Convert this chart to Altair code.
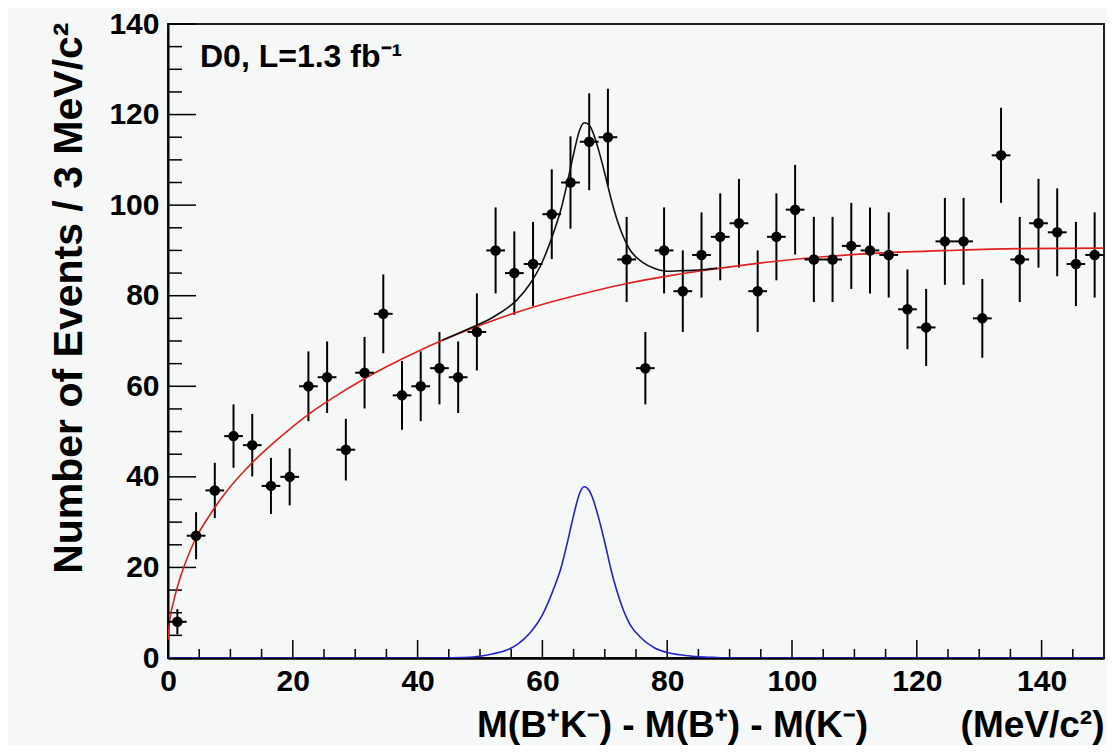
import altair as alt
import pandas as pd

# ---------------- data ----------------
bin_centers = [1.5, 4.5, 7.5, 10.5, 13.5, 16.5, 19.5, 22.5, 25.5, 28.5,
               31.5, 34.5, 37.5, 40.5, 43.5, 46.5, 49.5, 52.5, 55.5, 58.5,
               61.5, 64.5, 67.5, 70.5, 73.5, 76.5, 79.5, 82.5, 85.5, 88.5,
               91.5, 94.5, 97.5, 100.5, 103.5, 106.5, 109.5, 112.5, 115.5, 118.5,
               121.5, 124.5, 127.5, 130.5, 133.5, 136.5, 139.5, 142.5, 145.5, 148.5]
counts = [8, 27, 37, 49, 47, 38, 40, 60, 62, 46,
          63, 76, 58, 60, 64, 62, 72, 90, 85, 87,
          98, 105, 114, 115, 88, 64, 90, 81, 89, 93,
          96, 81, 93, 99, 88, 88, 91, 90, 89, 77,
          73, 92, 92, 75, 111, 88, 96, 94, 87, 89]
errors = [2.8, 5.2, 6.1, 7.0, 6.9, 6.2, 6.3, 7.7, 7.9, 6.8,
          7.9, 8.7, 7.6, 7.7, 8.0, 7.9, 8.5, 9.5, 9.2, 9.3,
          9.9, 10.2, 10.7, 10.7, 9.4, 8.0, 9.5, 9.0, 9.4, 9.6,
          9.8, 9.0, 9.6, 9.9, 9.4, 9.4, 9.5, 9.5, 9.4, 8.8,
          8.5, 9.6, 9.6, 8.7, 10.5, 9.4, 9.8, 9.7, 9.3, 9.4]
bin_half_width = 1.5

# background fit (red)
bkg_x = [0, 0.3, 0.9, 1.9, 3.0, 4.3, 6.75, 9.4, 13.4, 17.5, 22.9, 26.6, 31.4, 35, 40,
         43.7, 49.1, 54.5, 59.8, 65.2, 73.2, 81.2, 85.5, 96.7, 105, 113.9, 125.4, 136.8, 150]
bkg_y = [4.0, 8.5, 12.5, 17.5, 21.8, 26.0, 31.7, 36.8, 43.0, 48.2, 54.2, 57.6, 61.6, 64.3, 67.7,
         70.0, 73.0, 75.7, 78.0, 80.0, 82.6, 84.6, 85.5, 87.5, 88.6, 89.4, 90.0, 90.4, 90.5]

# signal (blue)
sig_x = [0, 44, 47, 50, 52, 54, 56, 58, 60, 61, 62, 63, 64, 65, 66, 66.7, 67.5, 68, 69, 70,
         71, 72, 73, 74, 76, 78, 80, 82, 84, 86, 88, 90, 150]
sig_y = [0, 0, 0.1, 0.4, 0.9, 1.6, 3.0, 5.5, 9.5, 12.5, 16, 20, 25.5, 31.5, 36.5, 37.8, 37, 35.5, 31, 25.5,
         19.5, 14.5, 10.5, 7.5, 4.2, 2.2, 1.2, 0.7, 0.4, 0.2, 0.1, 0, 0]

# total fit (black)
tot_x = [44, 48, 52, 56, 58, 60, 61, 62, 63, 64, 65, 66, 66.7, 67.5, 68, 69, 70, 71, 72, 73,
         74, 76, 78, 80, 82, 84, 86, 88]
tot_y = [70.2, 72.6, 75.2, 79.2, 82.6, 87.5, 90.9, 94.8, 99.2, 105.0, 111.3, 116.7, 118.2, 117.7, 116.4,
         112.2, 107.0, 101.4, 96.6, 92.9, 90.2, 87.4, 86.0, 85.4, 85.5, 85.6, 85.8, 86.1]

x_major = [0, 20, 40, 60, 80, 100, 120, 140]
x_minor = [5, 10, 15, 25, 30, 35, 45, 50, 55, 65, 70, 75, 85, 90, 95, 105, 110, 115, 125, 130, 135, 145]
y_major = [0, 20, 40, 60, 80, 100, 120, 140]
y_minor = [5, 10, 15, 25, 30, 35, 45, 50, 55, 65, 70, 75, 85, 90, 95, 105, 110, 115, 125, 130, 135]

NB = "\u00a0"
x_title = "M(B⁺K⁻) - M(B⁺) - M(K⁻)" + NB * 9 + "(MeV/c²)"
y_title = "Number of Events / 3 MeV/c²"
note = "D0, L=1.3 fb⁻¹"

# ---------------- tables ----------------
pts = pd.DataFrame({"x": bin_centers, "y": counts, "err": errors})
pts["ylo"] = pts["y"] - pts["err"]
pts["yhi"] = pts["y"] + pts["err"]
pts["xlo"] = pts["x"] - bin_half_width
pts["xhi"] = pts["x"] + bin_half_width

bkg = pd.DataFrame({"x": bkg_x, "y": bkg_y})
sig = pd.DataFrame({"x": sig_x, "y": sig_y})
tot = pd.DataFrame({"x": tot_x, "y": tot_y})

W, H = 936, 634
FONT = "Liberation Sans"

xscale = alt.Scale(domain=[0, 150], nice=False, zero=False)
yscale = alt.Scale(domain=[0, 140], nice=False, zero=False)

x_axis = alt.Axis(values=x_major, tickSize=0, ticks=False, grid=False,
                  labelFont=FONT, labelFontSize=30, labelFontWeight="bold", labelColor="black",
                  labelPadding=8, labelFlush=False, labelOverlap=False,
                  domainColor="black", domainWidth=2.5,
                  title=x_title,
                  titleFont=FONT, titleFontSize=37, titleFontWeight="bold", titleColor="black",
                  titleAnchor="end", titleAlign="right", titleBaseline="alphabetic",
                  titleX=W, titleY=78)
y_axis = alt.Axis(values=y_major, tickSize=0, ticks=False, grid=False,
                  labelFont=FONT, labelFontSize=30, labelFontWeight="bold", labelColor="black",
                  labelPadding=9, labelFlush=False, labelOverlap=False,
                  domainColor="black", domainWidth=2,
                  title=y_title,
                  titleFont=FONT, titleFontSize=41, titleFontWeight="bold", titleColor="black",
                  titleAnchor="end", titleAlign="right", titleBaseline="alphabetic",
                  titleAngle=270, titleX=-87, titleY=-2)


def X(field):
    return alt.X(field, type="quantitative", scale=xscale, axis=x_axis)


def Y(field):
    return alt.Y(field, type="quantitative", scale=yscale, axis=y_axis)


base_pts = alt.Chart(pts)

vbars = base_pts.mark_rule(color="black", strokeWidth=2).encode(
    x=X("x"), y=Y("ylo"), y2="yhi:Q",
)
hbars = base_pts.mark_rule(color="black", strokeWidth=2).encode(
    x=X("xlo"), x2="xhi:Q", y=Y("y"),
)
dots = base_pts.mark_point(filled=True, shape="circle", size=110, color="black", opacity=1).encode(
    x=X("x"), y=Y("y"),
)


def curve(df, color, width=1.6):
    return alt.Chart(df).mark_line(color=color, strokeWidth=width, interpolate="monotone", clip=True).encode(
        x=X("x"), y=Y("y"), order="x:Q",
    )


bkg_line = curve(bkg, "#e02020")
sig_line = curve(sig, "#2323c8")
tot_line = curve(tot, "#111111")


# inner ticks (ROOT style)
def yticks(vals, length):
    return alt.Chart(pd.DataFrame({"v": vals})).mark_rule(color="black", strokeWidth=1.5).encode(
        y=Y("v"), x=alt.value(0), x2=alt.value(length),
    )


def xticks(vals, length):
    return alt.Chart(pd.DataFrame({"v": vals})).mark_rule(color="black", strokeWidth=1.5).encode(
        x=X("v"), y=alt.value(H), y2=alt.value(H - length),
    )


label = alt.Chart(pd.DataFrame({"t": [note]})).mark_text(
    align="left", baseline="alphabetic", font=FONT, fontSize=32, fontWeight="bold", color="black"
).encode(x=alt.value(32), y=alt.value(43), text="t:N")

chart = alt.layer(
    vbars, yticks(y_major, 28), yticks(y_minor, 14), xticks(x_major, 18), xticks(x_minor, 9),
    sig_line, bkg_line, tot_line, hbars, dots, label,
).properties(
    width=W, height=H,
    autosize=alt.AutoSizeParams(type="none"),
    padding={"left": 160, "top": 16, "right": 3, "bottom": 87},
    background="#f5f8f6",
).configure_view(
    stroke="#222222", strokeWidth=2, fill="#f5f8f6",
)

chart.save("out.html", embed_options={"renderer": "svg", "actions": False})
